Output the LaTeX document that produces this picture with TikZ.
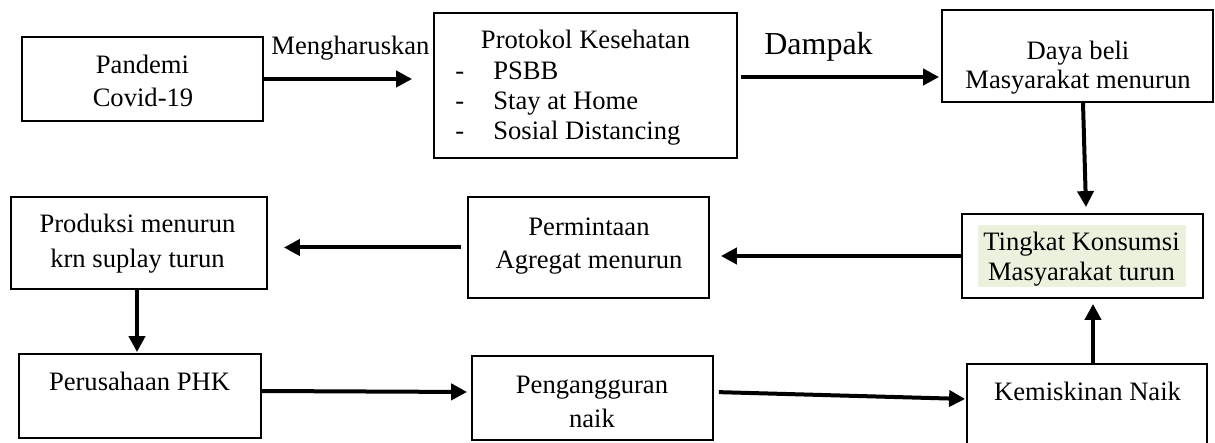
\documentclass[tikz,border=0pt]{standalone}
\usepackage{fontspec}
\setmainfont{Liberation Serif}
\usetikzlibrary{arrows.meta}
\definecolor{hl}{HTML}{EAF1DD}
\tikzset{
  box/.style={draw, line width=0.9pt, inner sep=0pt},
  txt/.style={anchor=base, inner sep=0pt, font=\fontsize{13.3pt}{15pt}\selectfont},
  bigtxt/.style={anchor=base, inner sep=0pt, font=\fontsize{16pt}{18pt}\selectfont},
  arr/.style={line width=2pt, -{Triangle[length=8pt,width=8pt]}},
}
\begin{document}
\begin{tikzpicture}[x=0.5pt,y=-0.5pt]
\useasboundingbox (0,0) rectangle (1215,443);
% boxes
\node[box, minimum width=120.5pt, minimum height=42pt] (pand) at (142.5,79) {};
\node[box, minimum width=151.5pt, minimum height=72.5pt] (prot) at (585.5,85.5) {};
\node[box, minimum width=135.5pt, minimum height=46pt] (daya) at (1077.5,56) {};
\node[box, minimum width=120.5pt, minimum height=42pt] (ting) at (1082.5,256) {};
\node[box, minimum width=120.5pt, minimum height=50.5pt] (perm) at (588.5,247.5) {};
\node[box, minimum width=128pt, minimum height=46pt] (prod) at (139,243) {};
\node[box, minimum width=121pt, minimum height=42pt] (peru) at (140,396) {};
\node[box, minimum width=120.5pt, minimum height=42pt] (peng) at (592.5,398) {};
\node[box, minimum width=120pt, minimum height=42pt] (kemi) at (1087,406) {};
% highlight
\fill[hl] (978,225) rectangle (1186,287);
% texts
\node[txt] (t1a) at (142.5,74) {Pandemi};
\node[txt] (t1b) at (143,107) {Covid-19};
\node[txt] (lab1) at (350.5,55) {Mengharuskan};
\node[txt] (t2a) at (585.5,49) {Protokol Kesehatan};
\node[txt, anchor=base west] (d1) at (455,80) {-};
\node[txt, anchor=base west] (d2) at (455,110) {-};
\node[txt, anchor=base west] (d3) at (455,140) {-};
\node[txt, anchor=base west] (i1) at (493,80) {PSBB};
\node[txt, anchor=base west] (i2) at (493,110) {Stay at Home};
\node[txt, anchor=base west] (i3) at (493,140) {Sosial Distancing};
\node[bigtxt] (lab2) at (818.5,55) {Dampak};
\node[txt] (t3a) at (1078,60) {Daya beli};
\node[txt] (t3b) at (1078,89) {Masyarakat menurun};
\node[txt] (t4a) at (1081.5,251) {Tingkat Konsumsi};
\node[txt] (t4b) at (1081.5,280) {Masyarakat turun};
\node[txt] (t5a) at (589,235) {Permintaan};
\node[txt] (t5b) at (589,269) {Agregat menurun};
\node[txt] (t6a) at (137.5,233) {Produksi menurun};
\node[txt] (t6b) at (137.5,268) {krn suplay turun};
\node[txt] (t7) at (139.5,390) {Perusahaan PHK};
\node[txt] (t8a) at (592,393) {Pengangguran};
\node[txt] (t8b) at (592,427) {naik};
\node[txt] (t9) at (1087.5,400) {Kemiskinan Naik};
% connectors
\draw[arr, shorten >=10.5pt] (pand.east) -- (pand.east -| prot.west);
\coordinate (a2s) at ([yshift=4.25pt]prot.east);
\draw[arr, shorten <=1.5pt, shorten >=1pt] (a2s) -- (a2s -| daya.west);
\draw[arr] ([xshift=2.75pt]daya.south) -- ([xshift=1.75pt,yshift=3pt]ting.north);
\draw[arr, shorten >=5.5pt] (ting.west) -- (ting.west -| perm.east);
\draw[arr, shorten <=3pt, shorten >=8pt] (perm.west) -- (perm.west -| prod.east);
\coordinate (a6s) at ([xshift=-1pt]prod.south);
\draw[arr, shorten >=0.5pt] (a6s) -- (a6s |- peru.north);
\draw[arr, shorten >=2pt] ([yshift=2.5pt]peru.east) -- ([yshift=3pt]peng.west);
\draw[arr, shorten <=2.5pt, shorten >=0.5pt] ([yshift=3pt]peng.east) -- ([yshift=3.5pt]kemi.west);
\coordinate (a9s) at ([xshift=3pt]kemi.north);
\draw[arr, shorten >=2.5pt] (a9s) -- (a9s |- ting.south);
\end{tikzpicture}
\end{document}
